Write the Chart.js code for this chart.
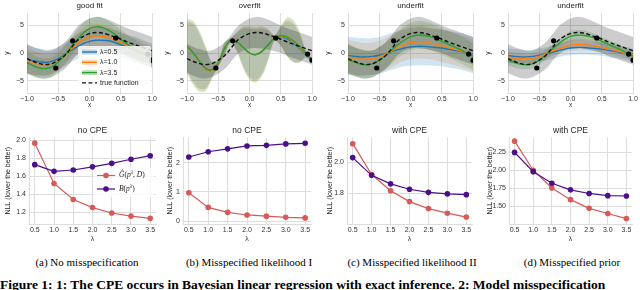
<!DOCTYPE html>
<html lang="en">
<head>
<meta charset="UTF-8">
<script src="https://cdn.jsdelivr.net/npm/chart.js@4.4.0/dist/chart.umd.min.js"></script>
<style>
  body { margin: 0; width: 640px; height: 290px; background: #fff; overflow: hidden; position: relative; }
  canvas { position: absolute; }
  .cap { position: absolute; top: 256px; font-family: "Liberation Serif", "Times New Roman", serif; font-size: 11px; white-space: nowrap; transform: translateX(-50%); color: #000; }
  .fig { position: absolute; left: 0; top: 277px; font-family: "Liberation Serif", "Times New Roman", serif; font-weight: bold; font-size: 13.5px; white-space: nowrap; color: #000; }
</style>
</head>
<body>
<canvas id="t0" width="160" height="112" style="left:0;top:0"></canvas>
<canvas id="t1" width="160" height="112" style="left:160px;top:0"></canvas>
<canvas id="t2" width="160" height="112" style="left:321px;top:0"></canvas>
<canvas id="t3" width="160" height="112" style="left:481px;top:0"></canvas>
<canvas id="b0" width="160" height="136" style="left:0;top:112px"></canvas>
<canvas id="b1" width="160" height="136" style="left:160px;top:112px"></canvas>
<canvas id="b2" width="160" height="136" style="left:320px;top:112px"></canvas>
<canvas id="b3" width="160" height="136" style="left:480px;top:112px"></canvas>
<div class="cap" style="left:87px">(a) No misspecification</div>
<div class="cap" style="left:249px">(b) Misspecified likelihood I</div>
<div class="cap" style="left:412px">(c) Misspecified likelihood II</div>
<div class="cap" style="left:572px">(d) Misspecified prior</div>
<div class="fig">Figure 1: 1: The CPE occurs in Bayesian linear regression with exact inference. 2: Model misspecification</div>
<script>
// ── GP panels: shared grid, true function, observations ─────────────────────
const xGrid = [-1.0, -0.9, -0.8, -0.7, -0.6, -0.5, -0.4, -0.3, -0.2, -0.1, 0.0,
               0.1, 0.2, 0.3, 0.4, 0.5, 0.6, 0.7, 0.8, 0.9, 1.0];
const trueMean = [-1.0, -1.5, -1.9, -2.1, -1.9, -1.3, -0.5, 0.8, 2.2, 3.0, 3.5,
                  3.7, 3.6, 3.3, 2.9, 2.5, 2.0, 1.6, 1.2, 0.8, 0.4];
const trueStd = [2.6, 2.6, 2.6, 2.5, 2.4, 2.4, 2.4, 2.4, 2.5, 2.6, 2.7,
                 2.8, 2.8, 2.7, 2.6, 2.5, 2.5, 2.5, 2.5, 2.5, 2.5];
const obsX = [-0.54, -0.27, 0.42, 0.93, 1.0];
const obsY = [-2.7, 2.2, 2.7, -0.2, -1.3];

// (a) good fit
const fitBlue = [-1.1, -1.4, -1.6, -1.7, -1.5, -1.0, -0.3, 0.4, 1.1, 1.7, 2.1, 2.3, 2.3, 2.2, 1.9, 1.5, 1.1, 0.7, 0.3, -0.1, -0.5];
const fitBlueStd = [2.6, 2.5, 2.4, 2.3, 2.2, 2.1, 2.1, 2.1, 2.2, 2.3, 2.4, 2.4, 2.4, 2.3, 2.2, 2.2, 2.2, 2.3, 2.3, 2.2, 2.2];
const fitOrange = [-1.4, -1.8, -2.0, -2.1, -1.9, -1.3, -0.4, 0.6, 1.6, 2.4, 2.9, 3.1, 3.0, 2.8, 2.4, 1.9, 1.3, 0.8, 0.3, -0.2, -0.6];
const fitOrangeStd = [2.3, 2.2, 2.1, 2.0, 1.9, 1.8, 1.8, 1.8, 1.9, 2.0, 2.1, 2.1, 2.1, 2.0, 1.9, 1.9, 1.9, 2.0, 2.0, 1.9, 1.9];
const fitGreen = [-1.7, -2.3, -2.7, -2.8, -2.5, -1.6, -0.4, 1.0, 2.4, 3.6, 4.4, 4.7, 4.6, 4.1, 3.4, 2.5, 1.6, 0.8, 0.1, -0.5, -1.0];
const fitGreenStd = [2.1, 2.0, 1.9, 1.8, 1.7, 1.6, 1.6, 1.6, 1.7, 1.8, 1.8, 1.8, 1.8, 1.7, 1.7, 1.7, 1.7, 1.8, 1.8, 1.7, 1.7];

// (b) overfit
const ofBlue = [1.2, 0.0, -1.5, -2.8, -3.1, -1.9, 0.7, 2.3, 2.0, 1.0, 0.0, -0.3, 0.3, 1.5, 2.7, 3.0, 2.6, 1.8, 0.8, -0.3, -1.3];
const ofBlueStd = [4.4, 5.2, 4.9, 3.5, 1.3, 0.5, 1.0, 0.4, 1.6, 3.4, 4.3, 4.5, 4.0, 2.5, 0.5, 1.6, 3.1, 3.4, 2.5, 0.6, 0.3];
const ofOrange = [1.2, 0.0, -1.5, -2.9, -3.2, -1.9, 0.7, 2.3, 2.0, 1.0, 0.0, -0.3, 0.3, 1.5, 2.7, 3.0, 2.8, 2.0, 1.0, -0.2, -1.3];
const ofOrangeStd = [4.7, 5.5, 5.2, 3.8, 1.4, 0.5, 1.1, 0.4, 1.7, 3.6, 4.6, 4.8, 4.3, 2.7, 0.5, 1.7, 3.3, 3.6, 2.7, 0.6, 0.3];
const ofGreen = [1.2, 0.0, -1.5, -2.8, -3.0, -1.8, 0.8, 2.3, 2.0, 1.0, 0.0, -0.3, 0.3, 1.5, 2.7, 3.1, 2.9, 2.2, 1.2, 0.0, -1.3];
const ofGreenStd = [5.0, 5.8, 5.5, 4.0, 1.5, 0.6, 1.2, 0.4, 1.8, 3.8, 4.8, 5.0, 4.5, 2.8, 0.5, 1.8, 3.5, 3.8, 2.8, 0.6, 0.3];

// (c) underfit, wide bands
const ufBlue = [-0.5, -0.6, -0.7, -0.7, -0.6, -0.4, -0.1, 0.3, 0.6, 0.9, 1.1, 1.2, 1.2, 1.1, 1.0, 0.9, 0.7, 0.5, 0.3, 0.0, -0.4];
const ufBlueStd = [3.4, 3.4, 3.4, 3.3, 3.3, 3.3, 3.3, 3.3, 3.3, 3.3, 3.4, 3.4, 3.4, 3.3, 3.3, 3.3, 3.3, 3.3, 3.3, 3.3, 3.3];
const ufOrange = [-0.7, -0.9, -1.1, -1.1, -1.0, -0.7, -0.2, 0.4, 1.0, 1.5, 1.9, 2.0, 2.0, 1.8, 1.6, 1.3, 1.0, 0.7, 0.4, 0.0, -0.5];
const ufOrangeStd = [3.0, 3.0, 3.0, 2.9, 2.9, 2.9, 2.9, 2.9, 2.9, 2.9, 3.0, 3.0, 3.0, 2.9, 2.9, 2.9, 2.9, 2.9, 2.9, 2.9, 2.9];
const ufGreen = [-1.2, -1.6, -2.0, -2.1, -1.9, -1.3, -0.5, 0.5, 1.5, 2.3, 2.9, 3.2, 3.2, 3.0, 2.6, 2.1, 1.6, 1.1, 0.6, 0.0, -0.6];
const ufGreenStd = [2.6, 2.6, 2.5, 2.5, 2.4, 2.4, 2.4, 2.4, 2.4, 2.5, 2.5, 2.5, 2.5, 2.4, 2.4, 2.4, 2.4, 2.4, 2.4, 2.4, 2.4];

// (d) underfit, narrow bands
const upBlue = [-0.5, -0.6, -0.7, -0.7, -0.6, -0.4, -0.2, 0.1, 0.4, 0.7, 0.9, 1.0, 1.0, 0.9, 0.8, 0.7, 0.5, 0.3, 0.1, -0.1, -0.4];
const upBlueStd = [1.3, 1.3, 1.3, 1.2, 1.2, 1.2, 1.2, 1.2, 1.2, 1.2, 1.3, 1.3, 1.3, 1.2, 1.2, 1.2, 1.2, 1.2, 1.2, 1.2, 1.2];
const upOrange = [-0.7, -0.9, -1.0, -1.0, -0.9, -0.6, -0.2, 0.3, 0.7, 1.1, 1.4, 1.5, 1.5, 1.4, 1.2, 1.0, 0.7, 0.5, 0.2, -0.1, -0.4];
const upOrangeStd = [1.0, 1.0, 1.0, 0.9, 0.9, 0.9, 0.9, 0.9, 0.9, 0.9, 1.0, 1.0, 1.0, 0.9, 0.9, 0.9, 0.9, 0.9, 0.9, 0.9, 0.9];
const upGreen = [-1.3, -1.7, -2.0, -2.1, -1.9, -1.3, -0.4, 0.6, 1.6, 2.4, 3.0, 3.2, 3.2, 3.0, 2.6, 2.1, 1.6, 1.1, 0.6, 0.0, -0.6];
const upGreenStd = [0.9, 0.9, 0.9, 0.8, 0.8, 0.8, 0.8, 0.8, 0.8, 0.8, 0.9, 0.9, 0.9, 0.8, 0.8, 0.8, 0.8, 0.8, 0.8, 0.8, 0.8];

const gpXTicks = [-1.0, -0.5, 0.0, 0.5, 1.0];
const gpYTicks = [-5, 0, 5];

// ── NLL panels ───────────────────────────────────────────────────────────────
const lambdas = [0.5, 1.0, 1.5, 2.0, 2.5, 3.0, 3.5];
const nllG_a = [1.97, 1.52, 1.34, 1.25, 1.19, 1.155, 1.13];
const nllB_a = [1.73, 1.655, 1.67, 1.705, 1.745, 1.79, 1.83];
const nllG_b = [0.97, 0.47, 0.30, 0.21, 0.17, 0.13, 0.11];
const nllB_b = [2.20, 2.38, 2.48, 2.58, 2.60, 2.65, 2.67];
const nllG_c = [2.12, 1.92, 1.815, 1.745, 1.70, 1.67, 1.645];
const nllB_c = [2.03, 1.915, 1.86, 1.825, 1.805, 1.795, 1.79];
const nllG_d = [2.40, 2.00, 1.755, 1.595, 1.475, 1.405, 1.335];
const nllB_d = [2.245, 1.98, 1.82, 1.73, 1.68, 1.65, 1.645];
const lamTicks = [0.5, 1.0, 1.5, 2.0, 2.5, 3.0, 3.5];

// ── styling ─────────────────────────────────────────────────────────────────
Chart.defaults.font.family = '"Liberation Sans", Arial, sans-serif';
Chart.defaults.font.size = 7;
Chart.defaults.color = '#333';
Chart.defaults.animation = false;

const GRID = '#dddddd';
const BLUE = '#1f77b4', ORANGE = '#ff7f0e', GREEN = '#2ca02c';
const RED = '#d65a5a', PURPLE = '#4c0f8a';
const fmt = (v, d) => (v < 0 ? '\u2212' : '') + Math.abs(v).toFixed(d);

function axisBox(box) {
  // box = {left, right, top, bottom} inside the canvas, W/H = canvas size
  return {
    padding: { left: 0, right: box.W - box.right, top: box.top, bottom: 0 },
    yFit: (s) => { s.width = box.left; },
    xFit: (s) => { s.height = box.H - box.bottom; },
  };
}

function titlePlugin(text, size) {
  return {
    id: 'panelTitle',
    afterDraw(chart) {
      const { ctx, chartArea: a } = chart;
      ctx.save();
      ctx.fillStyle = '#222';
      ctx.font = `${size}px "Liberation Sans", Arial, sans-serif`;
      ctx.textAlign = 'center';
      ctx.textBaseline = 'middle';
      ctx.fillText(text, (a.left + a.right) / 2, a.top - 7);
      ctx.restore();
    },
  };
}

function yLabelPlugin(text, x, size) {
  return {
    id: 'yLabel',
    afterDraw(chart) {
      const { ctx, chartArea: a } = chart;
      ctx.save();
      ctx.translate(x, (a.top + a.bottom) / 2);
      ctx.rotate(-Math.PI / 2);
      ctx.fillStyle = '#222';
      ctx.font = `${size}px "Liberation Sans", Arial, sans-serif`;
      ctx.textAlign = 'center';
      ctx.textBaseline = 'middle';
      ctx.fillText(text, 0, 0);
      ctx.restore();
    },
  };
}

// ── GP panel ────────────────────────────────────────────────────────────────
function gpPanel(id, title, fits, withLegend) {
  const box = axisBox({ left: 27, right: 152, top: 13, bottom: 93, W: 160, H: 112 });
  const pts = (ys) => xGrid.map((x, i) => ({ x, y: ys[i] }));
  const datasets = [];
  const band = (mean, std, color) => {
    datasets.push({ data: pts(mean.map((m, i) => m + std[i])), fill: '+1', backgroundColor: color,
                    borderWidth: 0, pointRadius: 0, tension: 0.35, order: 10, clip: 0 });
    datasets.push({ data: pts(mean.map((m, i) => m - std[i])), fill: false,
                    borderWidth: 0, pointRadius: 0, tension: 0.35, order: 10, clip: 0 });
  };
  const line = (mean, color, order, dash) => {
    datasets.push({ data: pts(mean), borderColor: color, borderWidth: 1.4, borderDash: dash || [],
                    pointRadius: 0, fill: false, tension: 0.35, order, clip: 0 });
  };
  band(trueMean, trueStd, 'rgba(0,0,0,0.2)');
  band(fits[0][0], fits[0][1], 'rgba(31,119,180,0.2)');
  band(fits[1][0], fits[1][1], 'rgba(255,127,14,0.2)');
  band(fits[2][0], fits[2][1], 'rgba(44,160,44,0.2)');
  line(fits[0][0], BLUE, 4);
  line(fits[1][0], ORANGE, 3);
  line(fits[2][0], GREEN, 2);
  line(trueMean, '#111', 1, [4, 2.5]);
  datasets.push({ data: obsX.map((x, i) => ({ x, y: obsY[i] })), showLine: false, pointRadius: 2.6,
                  pointBackgroundColor: '#000', pointBorderWidth: 0, order: 0, clip: 0 });

  const plugins = [titlePlugin(title, 8), yLabelPlugin('y', 7, 6.5)];
  if (withLegend) {
    plugins.push({
      id: 'gpLegend',
      afterDraw(chart) {
        const { ctx } = chart;
        const items = [
          ['\u03bb=0.5', BLUE, 'rgba(31,119,180,0.25)', []],
          ['\u03bb=1.0', ORANGE, 'rgba(255,127,14,0.3)', []],
          ['\u03bb=3.5', GREEN, 'rgba(44,160,44,0.3)', []],
          ['true function', '#111', 'rgba(0,0,0,0)', [4, 2.5]],
        ];
        ctx.save();
        ctx.fillStyle = 'rgba(255,255,255,0.8)';
        ctx.beginPath();
        ctx.roundRect(78, 46, 73, 42, 2);
        ctx.fill();
        ctx.font = '7px "Liberation Sans", Arial, sans-serif';
        ctx.textBaseline = 'middle';
        items.forEach(([label, col, patch, dash], i) => {
          const y = 52 + i * 10.3;
          ctx.fillStyle = patch;
          ctx.fillRect(82, y - 2.5, 15, 5);
          ctx.strokeStyle = col;
          ctx.lineWidth = 1.4;
          ctx.setLineDash(dash);
          ctx.beginPath();
          ctx.moveTo(82, y);
          ctx.lineTo(97, y);
          ctx.stroke();
          ctx.setLineDash([]);
          ctx.fillStyle = '#222';
          ctx.fillText(label, 100, y);
        });
        ctx.restore();
      },
    });
  }

  new Chart(document.getElementById(id), {
    type: 'line',
    data: { datasets },
    options: {
      responsive: false,
      layout: { padding: box.padding },
      plugins: { legend: { display: false }, tooltip: { enabled: false }, filler: { drawTime: 'beforeDatasetsDraw' } },
      scales: {
        x: {
          type: 'linear', min: -1, max: 1,
          afterBuildTicks: (s) => { s.ticks = gpXTicks.map((v) => ({ value: v })); },
          afterFit: box.xFit,
          ticks: { callback: (v) => fmt(v, 1), padding: 2, maxRotation: 0 },
          grid: { color: GRID, drawTicks: false },
          border: { color: GRID },
          title: { display: true, text: 'x', padding: { top: 0, bottom: 2.5 }, font: { size: 6.5 } },
        },
        y: {
          min: -7.2, max: 7.2,
          afterBuildTicks: (s) => { s.ticks = gpYTicks.map((v) => ({ value: v })); },
          afterFit: box.yFit,
          ticks: { callback: (v) => fmt(v, 0), padding: 3 },
          grid: { color: GRID, drawTicks: false },
          border: { color: GRID },
        },
      },
    },
    plugins,
  });
}

gpPanel('t0', 'good fit', [[fitBlue, fitBlueStd], [fitOrange, fitOrangeStd], [fitGreen, fitGreenStd]], true);
gpPanel('t1', 'overfit', [[ofBlue, ofBlueStd], [ofOrange, ofOrangeStd], [ofGreen, ofGreenStd]], false);
gpPanel('t2', 'underfit', [[ufBlue, ufBlueStd], [ufOrange, ufOrangeStd], [ufGreen, ufGreenStd]], false);
gpPanel('t3', 'underfit', [[upBlue, upBlueStd], [upOrange, upOrangeStd], [upGreen, upGreenStd]], false);

// ── NLL panel ───────────────────────────────────────────────────────────────
function drawMathLegend(ctx) {
  ctx.save();
  ctx.fillStyle = 'rgba(255,255,255,0.8)';
  ctx.beginPath();
  ctx.roundRect(94, 168, 60, 29, 2);
  ctx.fill();
  const rows = [[RED, 175.5, true], [PURPLE, 189, false]];
  rows.forEach(([col, y, isG]) => {
    ctx.strokeStyle = col; ctx.lineWidth = 1.2;
    ctx.beginPath(); ctx.moveTo(97, y); ctx.lineTo(115, y); ctx.stroke();
    ctx.fillStyle = col;
    ctx.beginPath(); ctx.arc(106, y, 2.8, 0, Math.PI * 2); ctx.fill();
    ctx.fillStyle = '#222';
    ctx.textBaseline = 'middle';
    let x = 119;
    const seg = (t, font, dy) => { ctx.font = font; ctx.fillText(t, x, y + (dy || 0)); x += ctx.measureText(t).width; };
    const it = 'italic 7.5px "Liberation Serif", "DejaVu Serif", serif';
    const rm = '7.5px "Liberation Serif", "DejaVu Serif", serif';
    const sup = 'italic 5.5px "Liberation Serif", "DejaVu Serif", serif';
    if (isG) {
      seg('\u011c', it); seg('(', rm); seg('p', it); seg('\u03bb', sup, -2.5); seg(', ', rm); seg('D', it); seg(')', rm);
    } else {
      seg('B', it); seg('(', rm); seg('p', it); seg('\u03bb', sup, -2.5); seg(')', rm);
    }
  });
  ctx.restore();
}

function nllPanel(id, title, g, b, yMin, yMax, yTicks, dec, box, labelX, withLegend) {
  const ab = axisBox({ ...box, top: 25.5, bottom: 112, W: 160, H: 136 });
  const plugins = [titlePlugin(title, 8.5), yLabelPlugin('NLL (lower the better)', labelX, 7)];
  if (withLegend) plugins.push({ id: 'nllLegend', afterDraw: (c) => {
    c.ctx.save(); c.ctx.translate(0, -112); drawMathLegend(c.ctx); c.ctx.restore();
  } });
  const ds = (vals, col, order) => ({
    data: lambdas.map((x, i) => ({ x, y: vals[i] })),
    borderColor: col, backgroundColor: col, borderWidth: 1.2,
    pointRadius: 2.8, pointBorderWidth: 0, pointBackgroundColor: col, fill: false, order,
  });
  new Chart(document.getElementById(id), {
    type: 'line',
    data: { datasets: [ds(g, RED, 2), ds(b, PURPLE, 1)] },
    options: {
      responsive: false,
      layout: { padding: ab.padding },
      plugins: { legend: { display: false }, tooltip: { enabled: false } },
      scales: {
        x: {
          type: 'linear', min: 0.35, max: 3.65,
          afterBuildTicks: (s) => { s.ticks = lamTicks.map((v) => ({ value: v })); },
          afterFit: ab.xFit,
          ticks: { callback: (v) => v.toFixed(1), padding: 2, maxRotation: 0 },
          grid: { color: GRID, drawTicks: false },
          border: { color: GRID },
          title: { display: true, text: '\u03bb', padding: { top: 0, bottom: 4.5 }, font: { size: 7 } },
        },
        y: {
          min: yMin, max: yMax,
          afterBuildTicks: (s) => { s.ticks = yTicks.map((v) => ({ value: v })); },
          afterFit: ab.yFit,
          ticks: { callback: (v) => v.toFixed(dec), padding: 3 },
          grid: { color: GRID, drawTicks: false },
          border: { color: GRID },
        },
      },
    },
    plugins,
  });
}

nllPanel('b0', 'no CPE', nllG_a, nllB_a, 1.067, 2.033, [1.2, 1.4, 1.6, 1.8, 2.0], 1, { left: 29, right: 156 }, 8, true);
nllPanel('b1', 'no CPE', nllG_b, nllB_b, -0.1, 2.87, [0, 1, 2], 0, { left: 23, right: 151 }, 10, false);
nllPanel('b2', 'with CPE', nllG_c, nllB_c, 1.6, 2.16, [1.8, 2.0], 1, { left: 27, right: 152 }, 10, false);
nllPanel('b3', 'with CPE', nllG_d, nllB_d, 1.26, 2.45, [1.5, 1.75, 2.0, 2.25], 2, { left: 29, right: 152 }, 10, false);
</script>
</body>
</html>
